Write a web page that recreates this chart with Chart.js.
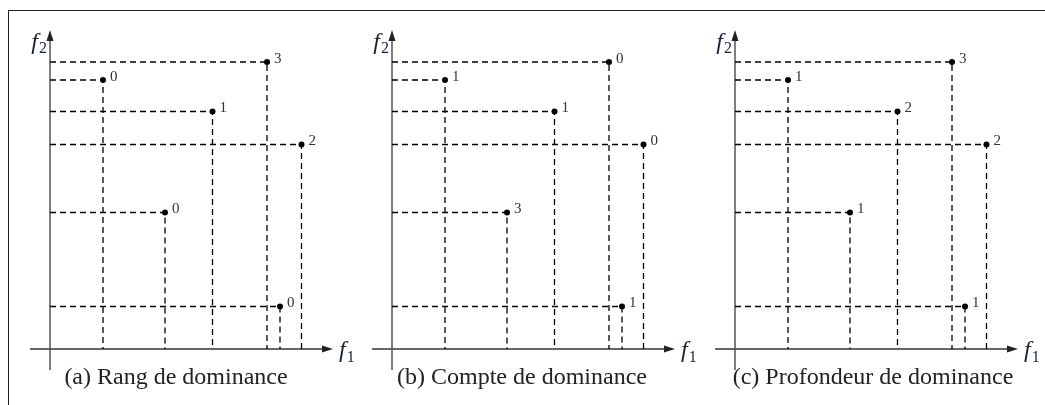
<!DOCTYPE html>
<html>
<head>
<meta charset="utf-8">
<script src="https://cdn.jsdelivr.net/npm/chart.js@4/dist/chart.umd.min.js"></script>
<style>
    body { margin: 0; background: #fff; }
    #page { position: relative; width: 1045px; height: 405px; overflow: hidden; }
    #frame {
        position: absolute; left: 8px; top: 10px; right: -2px; bottom: -2px;
        border-left: 1.5px solid #222; border-top: 1.5px solid #222;
    }
    .panel { position: absolute; top: 0; width: 360px; height: 405px; }
</style>
</head>
<body>
<div id="page">
    <div id="frame"></div>
    <div class="panel" style="left:0px"><canvas id="rankChart" width="360" height="405"></canvas></div>
    <div class="panel" style="left:342px"><canvas id="countChart" width="360" height="405"></canvas></div>
    <div class="panel" style="left:685px"><canvas id="depthChart" width="360" height="405"></canvas></div>
</div>
<script>
// Six solutions in the (f1, f2) objective space
const f1Values = [21.7, 5.3, 16.25, 25.15, 11.5, 23.0];
const f2Values = [28.7, 26.9, 23.75, 20.45, 13.65, 4.25];

// Dominance values shown beside each solution
const rankLabels = [3, 0, 1, 2, 0, 0];
const countLabels = [0, 1, 1, 0, 3, 1];
const depthLabels = [3, 1, 2, 2, 1, 1];

const captions = [
    '(a) Rang de dominance',
    '(b) Compte de dominance',
    '(c) Profondeur de dominance'
];

const SERIF = "'Liberation Serif', 'DejaVu Serif', serif";

// Axes with arrow heads, f1/f2 names, point values and the caption
const figurePlugin = {
    id: 'figure',
    beforeDatasetsDraw(chart, args, opts) {
        const ctx = chart.ctx;
        const area = chart.chartArea;
        const x0 = chart.scales.x.getPixelForValue(0);
        const y0 = chart.scales.y.getPixelForValue(0);

        ctx.save();
        ctx.strokeStyle = '#333';
        ctx.fillStyle = '#222';
        ctx.lineWidth = 1.5;

        // f1 axis
        ctx.beginPath();
        ctx.moveTo(area.left, y0);
        ctx.lineTo(area.right - 8, y0);
        ctx.stroke();
        ctx.beginPath();
        ctx.moveTo(area.right, y0);
        ctx.lineTo(area.right - 11, y0 - 3.5);
        ctx.lineTo(area.right - 11, y0 + 3.5);
        ctx.closePath();
        ctx.fill();

        // f2 axis
        ctx.strokeStyle = '#555';
        ctx.beginPath();
        ctx.moveTo(x0, area.bottom);
        ctx.lineTo(x0, area.top + 8);
        ctx.stroke();
        ctx.beginPath();
        ctx.moveTo(x0, area.top);
        ctx.lineTo(x0 - 3.5, area.top + 11);
        ctx.lineTo(x0 + 3.5, area.top + 11);
        ctx.closePath();
        ctx.fill();

        // axis names
        ctx.fillStyle = '#1c2233';
        ctx.textBaseline = 'alphabetic';
        ctx.textAlign = 'left';
        ctx.font = 'italic 24px ' + SERIF;
        const fw = ctx.measureText('f').width;
        ctx.fillText('f', area.right + 6, y0 + 8);
        ctx.font = '16px ' + SERIF;
        ctx.fillText('1', area.right + 6 + fw + 1, y0 + 13);

        ctx.font = '16px ' + SERIF;
        const sw = ctx.measureText('2').width;
        ctx.fillText('2', x0 - 3 - sw, area.top + 23);
        ctx.font = 'italic 24px ' + SERIF;
        ctx.fillText('f', x0 - 3 - sw - fw - 1, area.top + 19);

        // caption
        ctx.fillStyle = '#222';
        ctx.textAlign = 'center';
        ctx.textBaseline = 'middle';
        ctx.font = opts.captionFont + ' ' + SERIF;
        ctx.fillText(opts.caption, opts.captionX, 378);
        ctx.restore();
    },
    afterDatasetsDraw(chart, args, opts) {
        const ctx = chart.ctx;
        const meta = chart.getDatasetMeta(chart.data.datasets.length - 1);
        ctx.save();
        ctx.fillStyle = '#333';
        ctx.font = '15px ' + SERIF;
        ctx.textAlign = 'left';
        ctx.textBaseline = 'middle';
        meta.data.forEach((pt, i) => {
            ctx.fillText(String(opts.values[i]), pt.x + 7, pt.y - 3);
        });
        ctx.restore();
    }
};

function buildDatasets() {
    const datasets = f1Values.map((fx, i) => ({
        type: 'line',
        data: [
            { x: 0, y: f2Values[i] },
            { x: fx, y: f2Values[i] },
            { x: fx, y: 0 }
        ],
        borderColor: '#000',
        borderWidth: 1.3,
        borderDash: [6, 4],
        pointRadius: 0,
        fill: false,
        tension: 0
    }));
    datasets.push({
        type: 'scatter',
        data: f1Values.map((fx, i) => ({ x: fx, y: f2Values[i] })),
        backgroundColor: '#000',
        borderColor: '#000',
        pointRadius: 3,
        borderWidth: 0
    });
    return datasets;
}

function drawPanel(id, values, caption, captionX, captionFont) {
    const ctx = document.getElementById(id);
    if (!ctx) return;

    new Chart(ctx, {
        type: 'scatter',
        data: { datasets: buildDatasets() },
        options: {
            responsive: false,
            animation: false,
            layout: {
                padding: { left: 30, right: 27, top: 30, bottom: 35 }
            },
            scales: {
                x: { type: 'linear', display: false, min: -2.0, max: 28.3 },
                y: { type: 'linear', display: false, min: -2.1, max: 31.9 }
            },
            plugins: {
                legend: { display: false },
                tooltip: { enabled: false },
                figure: {
                    values: values,
                    caption: caption,
                    captionX: captionX,
                    captionFont: captionFont
                }
            }
        },
        plugins: [figurePlugin]
    });
}

drawPanel('rankChart', rankLabels, captions[0], 176, '24px');
drawPanel('countChart', countLabels, captions[1], 180, '24px');
drawPanel('depthChart', depthLabels, captions[2], 188, '24px');
</script>
</body>
</html>
